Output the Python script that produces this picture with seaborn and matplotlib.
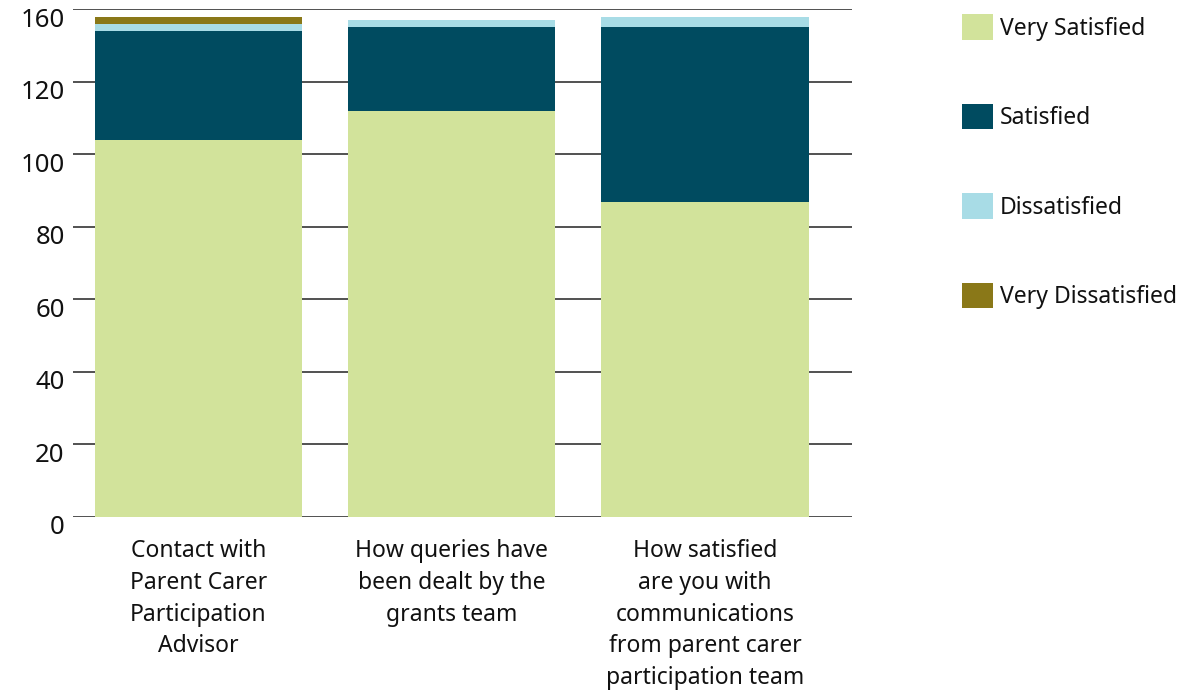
import numpy as np
import pandas as pd
import matplotlib
matplotlib.use('Agg')
import matplotlib.pyplot as plt
import matplotlib.transforms as mtrans
from matplotlib.patches import Patch
import seaborn as sns

questions = ['Contact with\nParent Carer\nParticipation\nAdvisor',
             'How queries have\nbeen dealt by the\ngrants team',
             'How satisfied\nare you with\ncommunications\nfrom parent carer\nparticipation team']
levels = ['Very Satisfied', 'Satisfied', 'Dissatisfied', 'Very Dissatisfied']
very_satisfied = [104, 112, 87]
satisfied = [30, 23, 48]
dissatisfied = [2, 2, 3]
very_dissatisfied = [2, 0, 0]
colors = ['#d2e39b', '#004b60', '#a8dce6', '#8a7818']
tick_vals = [0, 20, 40, 60, 80, 100, 120, 140]
tick_text = ['0', '20', '40', '60', '80', '100', '120', '160']

df = pd.DataFrame({'question': questions,
                   'Very Satisfied': very_satisfied,
                   'Satisfied': satisfied,
                   'Dissatisfied': dissatisfied,
                   'Very Dissatisfied': very_dissatisfied})
# cumulative tops for stacking
cum = df[levels].cumsum(axis=1)

sns.set_style('white')
plt.rcParams['font.family'] = ['Noto Sans', 'DejaVu Sans']

fig = plt.figure(figsize=(11.86, 6.95), dpi=100)
ax = fig.add_axes([73/1186, 1 - 517/695, (852-73)/1186, (517-9.3)/695])

# draw from the tallest stack down so each layer overlays the one above
for lvl, col in reversed(list(zip(levels, colors))):
    sns.barplot(x=df['question'], y=cum[lvl], color=col, width=0.818,
                saturation=1, ax=ax, linewidth=0, zorder=3)

ax.set_xlim(-0.495, 2.58)
ax.set_ylim(0, 140)
ax.set_yticks(tick_vals)
ax.set_yticklabels(tick_text)
ax.yaxis.grid(True, color='#222222', linewidth=1.1, zorder=0)
ax.set_axisbelow(True)
for s in ax.spines.values():
    s.set_visible(False)
ax.tick_params(axis='y', length=0, pad=6, labelsize=18.5, labelcolor='#111111')
ax.tick_params(axis='x', length=0, pad=16, labelsize=16.5, labelcolor='#111111')
ax.set_xlabel('')
ax.set_ylabel('')
off = mtrans.ScaledTranslation(0, -8/100, fig.dpi_scale_trans)
for lab in ax.get_yticklabels():
    lab.set_transform(lab.get_transform() + off)
for lab in ax.get_xticklabels():
    lab.set_linespacing(1.43)

handles = [Patch(facecolor=c, edgecolor='none') for c in colors]
fig.legend(handles, levels, loc='upper left',
           bbox_to_anchor=(962/1186, 1 - 14/695), frameon=False,
           fontsize=16.5, handlelength=1.35, handleheight=1.35,
           handletextpad=0.3, labelspacing=2.75, borderpad=0,
           borderaxespad=0, labelcolor='#111111')

fig.savefig('out.png', dpi=100)
